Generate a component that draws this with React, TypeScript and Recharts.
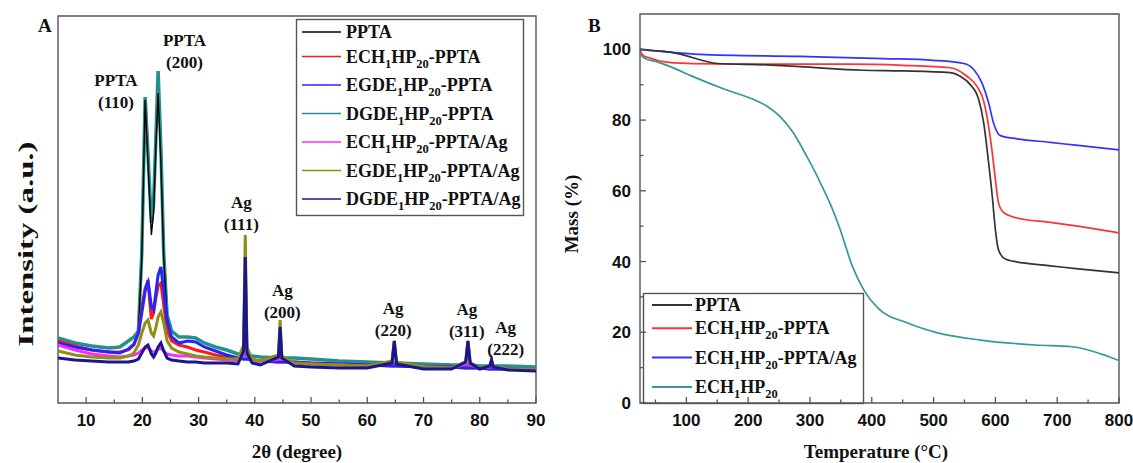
import React from "react";
import { LineChart, Line, XAxis, YAxis, ReferenceArea, ReferenceDot } from "recharts";

// ---------- Panel A: XRD ----------
const twoTheta = [
  5, 8, 11, 14, 16, 17.5, 18.5, 19.3, 19.9, 20.5,
  21.0, 21.6, 22.0, 22.4, 22.8, 23.3, 23.8, 24.4, 25.2, 26.5,
  28, 29.5, 31, 33, 35, 37, 38.0, 38.3, 38.6, 39.5,
  41, 44.2, 44.5, 44.8, 47, 50, 55, 60, 64.4, 64.8,
  65.2, 70, 75, 77.5, 77.9, 78.3, 80, 81.8, 82.1, 82.4,
  85, 90,
];

const pptaXrd = [
  62, 57, 53, 51, 51, 53, 58, 70, 145, 303,
  240, 168, 190, 255, 310, 240, 145, 85, 66, 58,
  56, 53, 51, 48, 46, 45, 44, 44, 44, 43,
  42, 41, 41, 41, 41, 40, 39, 38, 37, 37,
  37, 36, 36, 35, 35, 35, 35, 34, 34, 34,
  34, 33,
];
const echXrd = [
  62, 57, 53, 51, 51, 53, 58, 70, 95, 115,
  121, 84, 90, 105, 117, 120, 98, 72, 62, 58,
  56, 53, 51, 48, 46, 45, 44, 44, 44, 43,
  42, 41, 41, 41, 41, 40, 39, 38, 37, 37,
  37, 36, 36, 35, 35, 35, 35, 34, 34, 34,
  34, 33,
];
const egdeXrd = [
  60, 56, 53, 51, 50, 54, 59, 70, 90, 112,
  123, 96, 93, 110, 128, 136, 112, 82, 66, 60,
  62, 61, 56, 52, 48, 45, 44, 44, 44, 43,
  42, 41, 41, 41, 41, 40, 39, 38, 37, 37,
  37, 36, 36, 35, 35, 35, 35, 34, 34, 34,
  34, 33,
];
const dgdeXrd = [
  65, 60, 57, 55, 56, 62, 66, 72, 150, 306,
  250, 180, 200, 265, 332, 255, 150, 88, 72, 66,
  66, 65, 60, 56, 53, 49, 48, 48, 47, 47,
  46, 45, 45, 45, 45, 44, 42, 41, 40, 40,
  40, 39, 38, 38, 38, 38, 37, 37, 37, 37,
  37, 36,
];
const echAgXrd = [
  58, 53, 49, 47, 46, 47, 48, 50, 53, 55,
  56, 52, 51, 52, 54, 55, 52, 49, 48, 47,
  47, 46, 45, 44, 43, 42, 50, 120, 48, 42,
  41, 44, 65, 44, 40, 39, 38, 37, 40, 58,
  40, 36, 35, 39, 58, 38, 35, 36, 42, 36,
  34, 33,
];
const egdeAgXrd = [
  52, 48, 46, 45, 45, 47, 50, 58, 70, 80,
  83, 70, 67, 75, 86, 91, 80, 62, 55, 51,
  49, 47, 46, 45, 44, 44, 58, 168, 56, 44,
  42, 48, 83, 47, 40, 39, 38, 37, 42, 62,
  41, 36, 35, 41, 62, 40, 35, 37, 43, 36,
  34, 33,
];
const dgdeAgXrd = [
  45, 43, 42, 41, 41, 41, 42, 44, 50, 56,
  58, 49, 46, 50, 56, 60, 52, 45, 43, 42,
  41, 41, 40, 40, 40, 39, 52, 146, 50, 40,
  38, 46, 76, 45, 37, 36, 35, 35, 40, 62,
  39, 34, 34, 41, 62, 40, 34, 37, 43, 36,
  33, 32,
];

const xrdMajor = [10, 20, 30, 40, 50, 60, 70, 80, 90];
const xrdMinor = [15, 25, 35, 45, 55, 65, 75, 85];

// legend order
const xrdSeries = [
  { key: "ppta", name: "PPTA", color: "#000000", values: pptaXrd, width: 1.4 },
  { key: "ech", name: "ECH_1HP_20-PPTA", color: "#ff1a1a", values: echXrd, width: 3 },
  { key: "egde", name: "EGDE_1HP_20-PPTA", color: "#2424ff", values: egdeXrd, width: 3 },
  { key: "dgde", name: "DGDE_1HP_20-PPTA", color: "#23918d", values: dgdeXrd, width: 3.5 },
  { key: "echAg", name: "ECH_1HP_20-PPTA/Ag", color: "#ff2aff", values: echAgXrd, width: 3 },
  { key: "egdeAg", name: "EGDE_1HP_20-PPTA/Ag", color: "#8f8f12", values: egdeAgXrd, width: 3 },
  { key: "dgdeAg", name: "DGDE_1HP_20-PPTA/Ag", color: "#18188c", values: dgdeAgXrd, width: 3 },
];
// drawing order (bottom first)
const xrdDrawOrder = ["dgde", "ppta", "ech", "egde", "echAg", "egdeAg", "dgdeAg"];

const xrdPeaks = [
  { x: 15.3, y: 317, lines: ["PPTA", "(110)"] },
  { x: 27.5, y: 357, lines: ["PPTA", "(200)"] },
  { x: 37.6, y: 195, lines: ["Ag", "(111)"] },
  { x: 44.9, y: 107, lines: ["Ag", "(200)"] },
  { x: 64.6, y: 89, lines: ["Ag", "(220)"] },
  { x: 77.7, y: 88, lines: ["Ag", "(311)"] },
  { x: 84.6, y: 70, lines: ["Ag", "(222)"] },
];

// ---------- Panel B: TGA ----------
const pptaT = [25, 50, 78, 151, 230, 284, 386, 450, 527, 543, 559, 573, 581, 589, 595, 600, 605, 616, 646, 689, 730, 800];
const pptaM = [100, 99.6, 99.1, 96.0, 95.6, 95.1, 94.1, 93.9, 93.4, 92.4, 90.1, 85.8, 79.3, 68.0, 58.4, 49.0, 43.3, 40.7, 39.6, 38.8, 38.0, 36.8];

const echT = [25, 30, 40, 57, 80, 150, 250, 365, 450, 527, 554, 570, 581, 589, 595, 600, 605, 613, 635, 689, 730, 800];
const echM = [99.8, 98.3, 97.6, 96.7, 96.2, 95.9, 95.8, 95.8, 95.5, 94.8, 92.4, 89.6, 85.4, 78.3, 70.7, 63.2, 56.6, 53.9, 52.3, 51.1, 50.1, 48.1];

const echAgT = [25, 121, 284, 419, 500, 549, 565, 578, 589, 597, 608, 635, 689, 730, 800];
const echAgM = [100, 98.6, 98.0, 97.4, 96.9, 96.0, 94.3, 90.6, 84.9, 79.2, 75.6, 74.7, 73.7, 72.9, 71.6];

const hpT = [25, 28, 35, 50, 73, 108, 162, 209, 230, 251, 273, 294, 308, 317, 334, 348, 369, 387, 410, 458, 505, 576, 665, 724, 760, 800];
const hpM = [100, 98.1, 97.3, 96.6, 95.2, 92.5, 88.7, 85.8, 84.0, 81.1, 76.4, 70.0, 65.4, 62.2, 55.8, 49.5, 38.5, 32.0, 26.8, 22.6, 19.9, 17.8, 16.4, 15.9, 14.5, 12.0];

const tgaXMajor = [100, 200, 300, 400, 500, 600, 700, 800];
const tgaXMinor = [50, 150, 250, 350, 450, 550, 650, 750];
const tgaYMajor = [0, 20, 40, 60, 80, 100];
const tgaYMinor = [10, 30, 50, 70, 90];

const tgaSeries = [
  { key: "ppta", name: "PPTA", color: "#333333", t: pptaT, m: pptaM },
  { key: "ech", name: "ECH_1HP_20-PPTA", color: "#ff3333", t: echT, m: echM },
  { key: "echAg", name: "ECH_1HP_20-PPTA/Ag", color: "#3333ff", t: echAgT, m: echAgM },
  { key: "hp", name: "ECH_1HP_20", color: "#339999", t: hpT, m: hpM },
];
const tgaDrawOrder = ["hp", "ech", "echAg", "ppta"];

// ---------- helpers ----------
const SERIF = "'Liberation Serif', 'Times New Roman', serif";
const SANS = "'Liberation Sans', Arial, sans-serif";
const FRAME = "#555555";

const xrdData = twoTheta.map((t, i) => {
  const row: Record<string, number> = { t };
  xrdSeries.forEach((s) => (row[s.key] = s.values[i]));
  return row;
});

const sorted = (a: number[], b: number[]) => [...a, ...b].sort((p, q) => p - q);

// "ECH_1HP_20" -> ECH, sub 1, HP, sub 20
function formula(name: string, size: number) {
  const parts = name.split(/_(\d+)/);
  const out: React.ReactNode[] = [];
  let down = false;
  parts.forEach((p, i) => {
    if (!p) return;
    const sub = i % 2 === 1;
    let dy = 0;
    if (sub && !down) {
      dy = 5;
      down = true;
    } else if (!sub && down) {
      dy = -5;
      down = false;
    }
    out.push(
      <tspan key={i} dy={dy} fontSize={sub ? 12.5 : size}>
        {p}
      </tspan>
    );
  });
  return out;
}

const BottomTick = (props: any) => {
  const { x, y, payload, majors } = props;
  const v = payload.value;
  const isMajor = majors.includes(v);
  return (
    <g>
      <line x1={x} x2={x} y1={y} y2={y - (isMajor ? 6 : 3.5)} stroke={FRAME} strokeWidth={1.3} />
      {isMajor && (
        <text x={x} y={y + 23} textAnchor="middle" fontFamily={SANS} fontWeight="bold" fontSize={17} fill="#111">
          {v}
        </text>
      )}
    </g>
  );
};

const LeftTick = (props: any) => {
  const { x, y, payload, majors } = props;
  const v = payload.value;
  const isMajor = majors.includes(v);
  return (
    <g>
      <line x1={x} x2={x + (isMajor ? 6 : 3.5)} y1={y} y2={y} stroke={FRAME} strokeWidth={1.3} />
      {isMajor && (
        <text x={x - 9} y={y + 6} textAnchor="end" fontFamily={SANS} fontWeight="bold" fontSize={17} fill="#111">
          {v}
        </text>
      )}
    </g>
  );
};

const PeakLabel = (props: any) => {
  const { cx, cy, lines } = props;
  return (
    <text x={cx} y={cy} textAnchor="middle" fontFamily={SERIF} fontWeight="bold" fontSize={17} fill="#111">
      {lines.map((l: string, i: number) => (
        <tspan key={i} x={cx} dy={i === 0 ? 0 : 21.5}>
          {l}
        </tspan>
      ))}
    </text>
  );
};

const XrdChart = () => (
  <LineChart width={560} height={463} data={xrdData} margin={{ top: 16, right: 24, bottom: 0, left: 0 }}>
    <XAxis
      dataKey="t"
      type="number"
      domain={[5, 90]}
      allowDataOverflow
      ticks={sorted(xrdMajor, xrdMinor)}
      interval={0}
      height={60}
      axisLine={false}
      tickLine={false}
      tickSize={0}
      tickMargin={0}
      tick={(p: any) => <BottomTick {...p} majors={xrdMajor} />}
    />
    <YAxis type="number" domain={[0, 387]} allowDataOverflow width={58} tick={false} axisLine={false} tickLine={false} />
    <ReferenceArea x1={5} x2={90} y1={0} y2={387} fill="none" stroke={FRAME} strokeWidth={1.4} ifOverflow="visible" />
    {xrdDrawOrder.map((k) => {
      const s = xrdSeries.find((q) => q.key === k)!;
      return (
        <Line
          key={k}
          dataKey={k}
          type="linear"
          stroke={s.color}
          strokeWidth={s.width}
          dot={false}
          isAnimationActive={false}
        />
      );
    })}
    {xrdPeaks.map((p, i) => (
      <ReferenceDot
        key={i}
        x={p.x}
        y={p.y}
        r={0}
        ifOverflow="visible"
        shape={(sp: any) => <PeakLabel cx={sp.cx} cy={sp.cy} lines={p.lines} />}
      />
    ))}
  </LineChart>
);

const TgaChart = () => (
  <LineChart width={573} height={463} margin={{ top: 14, right: 14, bottom: 0, left: 0 }}>
    <XAxis
      dataKey="t"
      type="number"
      domain={[25, 800]}
      allowDataOverflow
      ticks={sorted(tgaXMajor, tgaXMinor)}
      interval={0}
      height={60}
      axisLine={false}
      tickLine={false}
      tickSize={0}
      tickMargin={0}
      tick={(p: any) => <BottomTick {...p} majors={tgaXMajor} />}
    />
    <YAxis
      type="number"
      domain={[0, 110]}
      allowDataOverflow
      ticks={sorted(tgaYMajor, tgaYMinor)}
      interval={0}
      width={80}
      axisLine={false}
      tickLine={false}
      tickSize={0}
      tickMargin={0}
      tick={(p: any) => <LeftTick {...p} majors={tgaYMajor} />}
    />
    <ReferenceArea x1={25} x2={800} y1={0} y2={110} fill="none" stroke={FRAME} strokeWidth={1.4} ifOverflow="visible" />
    {tgaDrawOrder.map((k) => {
      const s = tgaSeries.find((q) => q.key === k)!;
      const data = s.t.map((t, i) => ({ t, m: s.m[i] }));
      return (
        <Line
          key={k}
          data={data}
          dataKey="m"
          type="monotone"
          stroke={s.color}
          strokeWidth={1.7}
          dot={false}
          isAnimationActive={false}
        />
      );
    })}
  </LineChart>
);

const Overlay = () => {
  const legA = xrdSeries.map((s, i) => ({ ...s, y: i === 0 ? 32 : 28 + i * 28.5 }));
  const legB = tgaSeries.map((s, i) => ({ ...s, y: i === 0 ? 305 : 299 + i * 29.3 }));
  const txt = { fontFamily: SERIF, fontWeight: "bold" as const, fill: "#111" };
  return (
    <svg width={1133} height={463} style={{ position: "absolute", left: 0, top: 0, pointerEvents: "none" }}>
      <text x={38} y={32} fontSize={19} {...txt}>A</text>
      <text x={588} y={32} fontSize={19} {...txt}>B</text>

      <text x={297} y={458} fontSize={19} textAnchor="middle" {...txt}>2θ (degree)</text>
      <text x={876} y={458} fontSize={19} textAnchor="middle" {...txt}>Temperature (°C)</text>
      <text
        x={33}
        y={244}
        fontSize={20}
        textAnchor="middle"
        textLength={205}
        lengthAdjust="spacingAndGlyphs"
        transform="rotate(-90 33 244)"
        {...txt}
      >
        Intensity (a.u.)
      </text>
      <text x={578} y={214} fontSize={19} textAnchor="middle" transform="rotate(-90 578 214)" {...txt}>
        Mass (%)
      </text>

      <rect x={296.5} y={19.5} width={227} height={196} fill="#fff" stroke={FRAME} strokeWidth={1.4} />
      {legA.map((s) => (
        <g key={s.key}>
          <line x1={302} x2={341} y1={s.y} y2={s.y} stroke={s.color} strokeWidth={1.5} />
          <text x={346} y={s.y + 6} fontSize={18} {...txt}>
            {formula(s.name, 18)}
          </text>
        </g>
      ))}

      <rect x={643.5} y={293.5} width={220} height={110} fill="none" stroke={FRAME} strokeWidth={1.4} />
      {legB.map((s) => (
        <g key={s.key}>
          <line x1={652} x2={692} y1={s.y} y2={s.y} stroke={s.color} strokeWidth={2} />
          <text x={695} y={s.y + 6} fontSize={18} {...txt}>
            {formula(s.name, 18)}
          </text>
        </g>
      ))}
    </svg>
  );
};

export default function App() {
  return (
    <div style={{ position: "absolute", left: 0, top: 0, width: 1133, height: 463, background: "#fff" }}>
      <div style={{ position: "absolute", left: 0, top: 0 }}>
        <XrdChart />
      </div>
      <div style={{ position: "absolute", left: 560, top: 0 }}>
        <TgaChart />
      </div>
      <Overlay />
    </div>
  );
}
